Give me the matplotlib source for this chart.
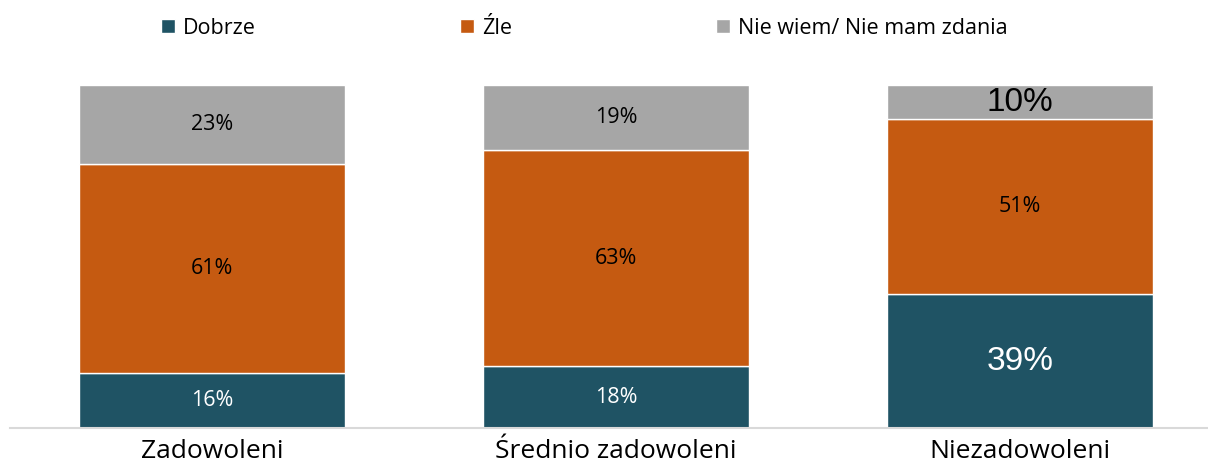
import matplotlib.pyplot as plt
import numpy as np

groups = ["Zadowoleni", "Średnio zadowoleni", "Niezadowoleni"]
series = ["Dobrze", "Źle", "Nie wiem/ Nie mam zdania"]
dobrze = [16, 18, 39]
zle = [61, 63, 51]
nie_wiem = [23, 19, 10]

colors = ["#1F5364", "#C55A11", "#A6A6A6"]
label_colors = ["white", "black", "black"]

fig = plt.figure(figsize=(12.08, 4.63), dpi=100)
ax = fig.add_axes([10 / 1208, 35 / 463, 1212 / 1208, 343 / 463])

x = np.arange(len(groups))
bottom = np.zeros(len(groups))
for name, vals, col, lc in zip(series, [dobrze, zle, nie_wiem], colors, label_colors):
    b = ax.bar(x, vals, 0.66, bottom=bottom, color=col, edgecolor="white",
               linewidth=1, label=name)
    for i, (rect, v) in enumerate(zip(b, vals)):
        cy = bottom[i] + v / 2
        # the last column has its two outer labels set in a bigger font
        if i == 2 and name != "Źle":
            ax.text(rect.get_x() + rect.get_width() / 2, cy, f"{v}%",
                    ha="center", va="center", color=lc, fontsize=24,
                    family="Liberation Sans")
        else:
            ax.text(rect.get_x() + rect.get_width() / 2, cy, f"{v}%",
                    ha="center", va="center", color=lc, fontsize=15.5,
                    family="Open Sans")
    bottom += np.array(vals)

ax.set_xlim(-0.5, 2.5)
ax.set_ylim(0, 100)
ax.set_yticks([])
ax.set_xticks(x)
ax.set_xticklabels(groups, fontsize=19, family="Open Sans")
ax.tick_params(axis="x", length=0, pad=8)
for s in ["top", "left", "right"]:
    ax.spines[s].set_visible(False)
ax.spines["bottom"].set_color("#D9D9D9")
ax.spines["bottom"].set_linewidth(1.5)

fig.legend(loc="upper left", bbox_to_anchor=(142 / 1208, 1.004), ncol=3,
           frameon=False, handlelength=0.65, handleheight=0.65,
           handletextpad=0.35, columnspacing=9.5,
           prop={"family": "Open Sans", "size": 15.5})

fig.savefig("out.png", dpi=100)
